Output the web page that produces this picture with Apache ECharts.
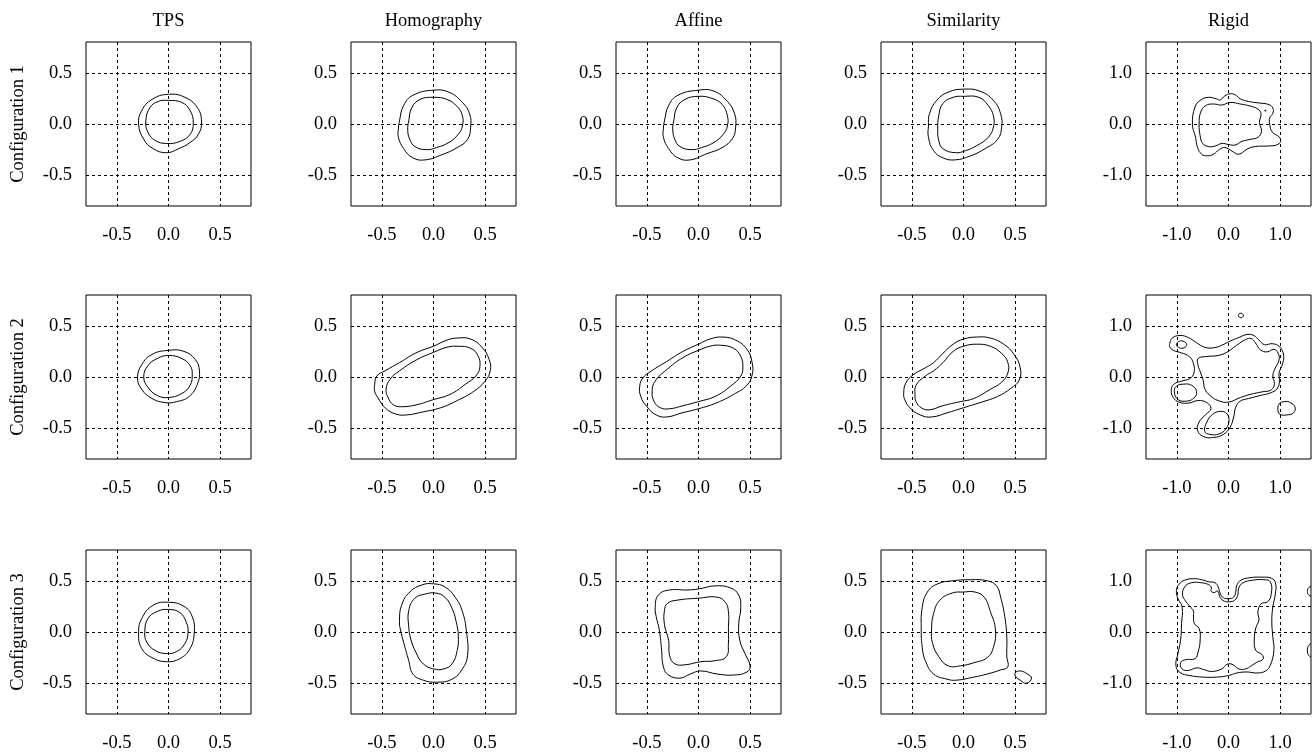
<!DOCTYPE html>
<html>
<head>
<meta charset="utf-8">
<script src="https://cdn.jsdelivr.net/npm/echarts@6/dist/echarts.min.js"></script>
<style>
html,body{margin:0;padding:0;background:#fff;}
#chart{width:1313px;height:754px;}
</style>
</head>
<body>
<div id="chart"></div>
<script>
// ---------- labels & ticks ----------
const colTitles = ['TPS', 'Homography', 'Affine', 'Similarity', 'Rigid'];
const rowLabels = ['Configuration 1', 'Configuration 2', 'Configuration 3'];
const ticksSmall = [-0.5, 0, 0.5];
const ticksRigid = [-1, 0, 1];
const gridYRigidRow3 = [-1, 0, 0.5];   // horizontal grid lines of last panel
const rangeSmall = [-0.8, 0.8];
const rangeRigid = [-1.6, 1.6];

// ---------- contour lines (x, y) ----------
// Row 1
const tps1Outer = [[0,0.29],[0.16,0.26],[0.28,0.16],[0.32,0.02],[0.29,-0.10],[0.21,-0.18],[0.10,-0.24],[-0.02,-0.28],[-0.15,-0.24],[-0.24,-0.15],[-0.29,0.0],[-0.26,0.13],[-0.16,0.24]];
const tps1Inner = [[0,0.23],[0.13,0.21],[0.21,0.13],[0.24,0.01],[0.21,-0.10],[0.11,-0.17],[-0.02,-0.19],[-0.13,-0.16],[-0.20,-0.08],[-0.22,0.03],[-0.18,0.16],[-0.10,0.22]];
const hom1Outer = [[-0.33,0.03],[-0.29,0.18],[-0.20,0.28],[0,0.33],[0.15,0.31],[0.28,0.21],[0.35,0.10],[0.36,-0.03],[0.33,-0.15],[0.23,-0.23],[0.08,-0.30],[-0.08,-0.35],[-0.20,-0.33],[-0.29,-0.24],[-0.34,-0.13],[-0.34,-0.04]];
const hom1Inner = [[-0.24,0.03],[-0.21,0.16],[-0.13,0.24],[0,0.26],[0.13,0.24],[0.23,0.17],[0.28,0.08],[0.28,-0.02],[0.24,-0.10],[0.15,-0.18],[0.03,-0.23],[-0.07,-0.25],[-0.18,-0.22],[-0.23,-0.15],[-0.25,-0.06]];
const aff1Outer = [[-0.33,0.03],[-0.29,0.18],[-0.20,0.28],[0,0.33],[0.15,0.32],[0.28,0.22],[0.35,0.10],[0.36,-0.03],[0.33,-0.14],[0.23,-0.23],[0.08,-0.29],[-0.08,-0.35],[-0.20,-0.33],[-0.29,-0.24],[-0.34,-0.13],[-0.34,-0.04]];
const aff1Inner = [[-0.24,0.03],[-0.21,0.16],[-0.13,0.24],[0,0.27],[0.13,0.25],[0.23,0.19],[0.28,0.08],[0.28,-0.02],[0.24,-0.10],[0.15,-0.18],[0.03,-0.23],[-0.07,-0.25],[-0.18,-0.22],[-0.23,-0.15],[-0.25,-0.05]];
const sim1Outer = [[-0.33,0.10],[-0.26,0.23],[-0.15,0.31],[0,0.34],[0.16,0.32],[0.29,0.23],[0.36,0.10],[0.37,-0.03],[0.33,-0.15],[0.21,-0.24],[0.07,-0.31],[-0.08,-0.35],[-0.20,-0.33],[-0.29,-0.26],[-0.34,-0.13],[-0.34,-0.02]];
const sim1Inner = [[-0.24,0.08],[-0.20,0.20],[-0.10,0.26],[0,0.27],[0.15,0.26],[0.24,0.18],[0.29,0.08],[0.29,-0.03],[0.24,-0.13],[0.13,-0.21],[0.02,-0.26],[-0.08,-0.28],[-0.20,-0.24],[-0.24,-0.16],[-0.25,-0.05]];
const rig1Outer = [[-0.70,0],[-0.65,0.33],[-0.55,0.46],[-0.39,0.52],[-0.23,0.49],[-0.16,0.47],[-0.07,0.55],[0.03,0.59],[0.13,0.57],[0.23,0.49],[0.39,0.44],[0.59,0.41],[0.78,0.38],[0.86,0.31],[0.86,0.21],[0.80,0.12],[0.80,-0.01],[0.85,-0.16],[0.98,-0.25],[1.01,-0.34],[0.93,-0.41],[0.75,-0.43],[0.52,-0.44],[0.36,-0.49],[0.20,-0.59],[0.07,-0.53],[-0.07,-0.46],[-0.18,-0.50],[-0.29,-0.59],[-0.41,-0.62],[-0.52,-0.59],[-0.60,-0.46],[-0.64,-0.26]];
const rig1Inner = [[-0.57,0],[-0.54,0.23],[-0.44,0.36],[-0.29,0.39],[-0.13,0.37],[0.03,0.42],[0.23,0.39],[0.42,0.35],[0.57,0.29],[0.63,0.20],[0.60,0.03],[0.64,-0.14],[0.57,-0.26],[0.42,-0.30],[0.26,-0.34],[0.13,-0.41],[0,-0.40],[-0.13,-0.38],[-0.26,-0.43],[-0.39,-0.44],[-0.50,-0.38],[-0.55,-0.23]];
const rig1Dot = [[0.70,0.26],[0.715,0.27],[0.73,0.26],[0.715,0.25]];
// Row 2
const tps2Outer = [[-0.30,-0.01],[-0.26,0.12],[-0.16,0.22],[0,0.26],[0.15,0.25],[0.26,0.17],[0.30,0.06],[0.28,-0.07],[0.20,-0.19],[0.08,-0.24],[-0.03,-0.25],[-0.16,-0.21],[-0.26,-0.12]];
const tps2Inner = [[-0.24,0],[-0.20,0.11],[-0.11,0.18],[0,0.21],[0.13,0.18],[0.21,0.11],[0.23,0.03],[0.21,-0.08],[0.13,-0.16],[0,-0.20],[-0.11,-0.18],[-0.20,-0.10]];
const hom2Outer = [[-0.57,-0.07],[-0.55,0.01],[-0.47,0.06],[-0.33,0.14],[-0.16,0.24],[0,0.30],[0.13,0.36],[0.23,0.38],[0.36,0.37],[0.47,0.29],[0.54,0.17],[0.55,0.06],[0.50,-0.04],[0.39,-0.14],[0.23,-0.23],[0.07,-0.30],[-0.10,-0.34],[-0.26,-0.37],[-0.37,-0.36],[-0.47,-0.30],[-0.54,-0.20],[-0.57,-0.14]];
const hom2Inner = [[-0.46,-0.12],[-0.42,-0.02],[-0.33,0.06],[-0.16,0.17],[0,0.24],[0.13,0.29],[0.24,0.30],[0.36,0.28],[0.43,0.21],[0.45,0.10],[0.41,0.01],[0.31,-0.07],[0.16,-0.17],[0,-0.22],[-0.16,-0.27],[-0.31,-0.29],[-0.39,-0.27],[-0.44,-0.20]];
const aff2Outer = [[-0.57,-0.09],[-0.54,-0.01],[-0.47,0.05],[-0.31,0.15],[-0.15,0.25],[0,0.32],[0.11,0.37],[0.23,0.39],[0.36,0.36],[0.47,0.27],[0.52,0.14],[0.52,0.02],[0.47,-0.08],[0.34,-0.17],[0.18,-0.25],[0,-0.31],[-0.16,-0.35],[-0.31,-0.39],[-0.41,-0.37],[-0.50,-0.29],[-0.56,-0.19]];
const aff2Inner = [[-0.45,-0.14],[-0.42,-0.04],[-0.31,0.07],[-0.15,0.19],[0,0.26],[0.11,0.30],[0.21,0.31],[0.34,0.28],[0.41,0.20],[0.43,0.10],[0.41,0.01],[0.31,-0.09],[0.16,-0.19],[0,-0.24],[-0.15,-0.28],[-0.28,-0.31],[-0.37,-0.30],[-0.43,-0.24]];
const sim2Outer = [[-0.58,-0.16],[-0.56,-0.06],[-0.49,0.02],[-0.37,0.09],[-0.29,0.14],[-0.20,0.23],[-0.10,0.32],[0,0.37],[0.13,0.39],[0.26,0.38],[0.39,0.32],[0.49,0.22],[0.55,0.09],[0.54,-0.03],[0.46,-0.11],[0.33,-0.19],[0.16,-0.25],[0,-0.30],[-0.16,-0.35],[-0.31,-0.39],[-0.42,-0.37],[-0.52,-0.30],[-0.57,-0.22]];
const sim2Inner = [[-0.47,-0.17],[-0.46,-0.08],[-0.37,0.01],[-0.29,0.06],[-0.20,0.14],[-0.10,0.25],[0,0.30],[0.13,0.32],[0.26,0.30],[0.37,0.23],[0.43,0.14],[0.43,0.04],[0.37,-0.05],[0.26,-0.12],[0.10,-0.21],[-0.03,-0.24],[-0.20,-0.28],[-0.33,-0.32],[-0.41,-0.30],[-0.46,-0.24]];
const rig2Outer = [[-1.14,0.65],[-1.09,0.76],[-0.94,0.81],[-0.78,0.77],[-0.62,0.67],[-0.46,0.58],[-0.29,0.57],[-0.13,0.62],[0.03,0.70],[0.20,0.77],[0.36,0.83],[0.49,0.81],[0.59,0.72],[0.70,0.63],[0.85,0.65],[0.99,0.59],[1.07,0.42],[1.04,0.23],[0.98,0.08],[0.99,-0.07],[0.94,-0.23],[0.81,-0.31],[0.62,-0.36],[0.39,-0.42],[0.23,-0.47],[0.14,-0.59],[0.10,-0.78],[0.03,-0.98],[-0.10,-1.12],[-0.29,-1.18],[-0.49,-1.16],[-0.60,-1.04],[-0.57,-0.88],[-0.44,-0.73],[-0.34,-0.62],[-0.42,-0.50],[-0.59,-0.46],[-0.78,-0.51],[-0.96,-0.49],[-1.07,-0.40],[-1.11,-0.26],[-1.06,-0.14],[-0.91,-0.08],[-0.75,-0.03],[-0.67,0.08],[-0.68,0.26],[-0.76,0.40],[-0.91,0.47],[-1.07,0.52],[-1.14,0.59]];
const rig2Core = [[-0.59,0.36],[-0.42,0.40],[-0.20,0.42],[-0.02,0.49],[0.16,0.62],[0.33,0.73],[0.44,0.75],[0.52,0.67],[0.62,0.53],[0.75,0.49],[0.88,0.54],[0.96,0.47],[0.98,0.33],[0.90,0.16],[0.86,0.02],[0.89,-0.13],[0.83,-0.25],[0.65,-0.29],[0.42,-0.34],[0.23,-0.40],[0,-0.49],[-0.20,-0.46],[-0.36,-0.36],[-0.46,-0.23],[-0.49,-0.07],[-0.54,0.08],[-0.59,0.23]];
const rig2LeftLobe = [[-1.05,-0.29],[-1.01,-0.18],[-0.88,-0.14],[-0.72,-0.16],[-0.62,-0.28],[-0.67,-0.41],[-0.81,-0.47],[-0.98,-0.44]];
const rig2BottomLobe = [[-0.46,-1.06],[-0.42,-0.88],[-0.31,-0.73],[-0.15,-0.67],[-0.03,-0.72],[0.01,-0.85],[-0.05,-1.01],[-0.18,-1.11],[-0.36,-1.12]];
const rig2SpotTL = [[-1.01,0.63],[-0.95,0.70],[-0.86,0.69],[-0.81,0.63],[-0.86,0.57],[-0.95,0.57]];
const rig2SpotTop = [[0.19,1.20],[0.24,1.245],[0.29,1.20],[0.24,1.155]];
const rig2Right = [[0.96,-0.66],[0.98,-0.53],[1.08,-0.48],[1.20,-0.50],[1.29,-0.59],[1.26,-0.70],[1.13,-0.74],[1.00,-0.73]];
// Row 3
const tps3Outer = [[-0.29,-0.02],[-0.26,0.13],[-0.15,0.26],[0,0.29],[0.15,0.25],[0.23,0.15],[0.25,0],[0.21,-0.16],[0.11,-0.26],[-0.02,-0.29],[-0.16,-0.25],[-0.26,-0.16]];
const tps3Inner = [[-0.23,0],[-0.20,0.13],[-0.11,0.20],[0,0.22],[0.11,0.19],[0.17,0.10],[0.19,0],[0.16,-0.11],[0.08,-0.19],[-0.02,-0.21],[-0.13,-0.18],[-0.21,-0.10]];
const hom3Outer = [[-0.33,0.10],[-0.31,0.26],[-0.23,0.39],[-0.11,0.46],[0,0.47],[0.11,0.44],[0.21,0.34],[0.28,0.20],[0.32,0],[0.33,-0.23],[0.28,-0.36],[0.18,-0.46],[0.03,-0.49],[-0.10,-0.47],[-0.20,-0.41],[-0.24,-0.28],[-0.29,-0.10],[-0.32,0.02]];
const hom3Inner = [[-0.24,0.05],[-0.24,0.21],[-0.18,0.33],[-0.08,0.37],[0.02,0.38],[0.11,0.34],[0.18,0.23],[0.22,0.10],[0.24,-0.03],[0.23,-0.18],[0.18,-0.31],[0.10,-0.36],[0,-0.36],[-0.10,-0.31],[-0.17,-0.20],[-0.22,-0.07]];
const aff3Outer = [[-0.42,0.24],[-0.39,0.36],[-0.28,0.41],[-0.11,0.41],[0,0.42],[0.16,0.45],[0.31,0.43],[0.39,0.36],[0.41,0.24],[0.39,0.08],[0.40,-0.08],[0.45,-0.21],[0.50,-0.33],[0.47,-0.39],[0.34,-0.42],[0.18,-0.41],[0.02,-0.38],[-0.08,-0.41],[-0.18,-0.45],[-0.29,-0.42],[-0.34,-0.34],[-0.36,-0.15],[-0.38,0.02],[-0.41,0.15]];
const aff3Inner = [[-0.33,0.21],[-0.30,0.28],[-0.21,0.31],[0,0.33],[0.18,0.34],[0.26,0.29],[0.29,0.20],[0.29,0.03],[0.29,-0.11],[0.27,-0.24],[0.16,-0.28],[0.02,-0.29],[-0.13,-0.32],[-0.23,-0.31],[-0.28,-0.23],[-0.29,-0.08],[-0.33,0.07]];
const sim3Outer = [[-0.41,0.02],[-0.40,0.24],[-0.35,0.39],[-0.25,0.47],[-0.10,0.50],[0.07,0.51],[0.23,0.50],[0.32,0.45],[0.36,0.34],[0.40,0.15],[0.42,-0.05],[0.42,-0.24],[0.43,-0.34],[0.36,-0.37],[0.23,-0.41],[0.10,-0.44],[-0.07,-0.47],[-0.16,-0.46],[-0.29,-0.41],[-0.37,-0.28],[-0.40,-0.15]];
const sim3Inner = [[-0.31,0.02],[-0.29,0.18],[-0.23,0.31],[-0.11,0.38],[0,0.39],[0.11,0.39],[0.20,0.34],[0.26,0.20],[0.31,0.02],[0.29,-0.15],[0.23,-0.25],[0.10,-0.30],[-0.03,-0.33],[-0.15,-0.33],[-0.24,-0.24],[-0.30,-0.11]];
const sim3Spot = [[0.50,-0.40],[0.55,-0.38],[0.62,-0.41],[0.66,-0.45],[0.61,-0.50],[0.55,-0.47],[0.51,-0.44]];
const rig3Outer = [[-1.01,0.81],[-0.96,0.93],[-0.85,1.01],[-0.68,1.04],[-0.52,1.02],[-0.39,0.98],[-0.26,0.96],[-0.20,0.88],[-0.16,0.75],[-0.10,0.67],[0,0.65],[0.10,0.68],[0.14,0.78],[0.16,0.91],[0.24,1.01],[0.42,1.06],[0.65,1.07],[0.83,1.05],[0.91,0.96],[0.91,0.75],[0.86,0.49],[0.84,0.20],[0.86,-0.10],[0.88,-0.36],[0.81,-0.65],[0.72,-0.76],[0.55,-0.80],[0.36,-0.78],[0.16,-0.80],[0,-0.85],[-0.23,-0.88],[-0.49,-0.88],[-0.75,-0.85],[-0.94,-0.79],[-1.02,-0.65],[-0.98,-0.42],[-0.93,-0.16],[-0.91,0.16],[-0.90,0.49],[-0.98,0.65]];
const rig3Inner = [[-0.89,0.72],[-0.85,0.88],[-0.72,0.96],[-0.52,0.96],[-0.38,0.92],[-0.33,0.86],[-0.34,0.80],[-0.28,0.77],[-0.21,0.80],[-0.16,0.67],[-0.08,0.60],[0.02,0.59],[0.12,0.62],[0.18,0.72],[0.20,0.86],[0.28,0.96],[0.46,1.01],[0.68,1.02],[0.81,0.98],[0.83,0.75],[0.76,0.59],[0.63,0.55],[0.57,0.39],[0.59,0.23],[0.53,0.08],[0.50,-0.16],[0.53,-0.36],[0.65,-0.44],[0.67,-0.53],[0.55,-0.59],[0.44,-0.66],[0.33,-0.72],[0.20,-0.72],[0.07,-0.63],[-0.03,-0.63],[-0.13,-0.72],[-0.33,-0.77],[-0.49,-0.73],[-0.62,-0.70],[-0.78,-0.75],[-0.90,-0.72],[-0.93,-0.60],[-0.83,-0.54],[-0.65,-0.52],[-0.59,-0.39],[-0.55,-0.16],[-0.57,0.07],[-0.66,0.16],[-0.68,0.31],[-0.68,0.41],[-0.75,0.50],[-0.83,0.60]];
const rig3EdgeTop = [[1.53,0.79],[1.56,0.87],[1.65,0.90],[1.74,0.86],[1.77,0.79],[1.74,0.72],[1.65,0.68],[1.56,0.72]];
const rig3EdgeBottom = [[1.53,-0.36],[1.56,-0.26],[1.65,-0.21],[1.75,-0.25],[1.80,-0.36],[1.75,-0.47],[1.65,-0.51],[1.56,-0.46]];

const panelContours = [
  [[tps1Outer, tps1Inner], [hom1Outer, hom1Inner], [aff1Outer, aff1Inner], [sim1Outer, sim1Inner], [rig1Outer, rig1Inner, rig1Dot]],
  [[tps2Outer, tps2Inner], [hom2Outer, hom2Inner], [aff2Outer, aff2Inner], [sim2Outer, sim2Inner],
   [rig2Outer, rig2Core, rig2LeftLobe, rig2BottomLobe, rig2SpotTL, rig2SpotTop, rig2Right]],
  [[tps3Outer, tps3Inner], [hom3Outer, hom3Inner], [aff3Outer, aff3Inner], [sim3Outer, sim3Inner, sim3Spot],
   [rig3Outer, rig3Inner, rig3EdgeTop, rig3EdgeBottom]]
];

// ---------- layout ----------
const FONT = '"Liberation Serif", "Times New Roman", serif';
const FS = 18.5;
const colLeft = [86, 351, 616, 881, 1146];
const rowTop = [42, 295, 550];
const boxW = 165, boxH = 164;

const grids = [], xAxes = [], yAxes = [], series = [];
const fmt = v => v.toFixed(1);
const splitStyle = { show: true, lineStyle: { color: '#000', width: 1, type: [3, 3] } };

let k = 0;
for (let r = 0; r < 3; r++) {
  for (let c = 0; c < 5; c++) {
    const rigid = c === 4;
    const range = rigid ? rangeRigid : rangeSmall;
    const ticks = rigid ? ticksRigid : ticksSmall;
    const yGrid = (rigid && r === 2) ? gridYRigidRow3 : ticks;
    grids.push({ left: colLeft[c], top: rowTop[r], width: boxW, height: boxH,
      show: true, borderColor: '#000', borderWidth: 1, backgroundColor: 'transparent' });
    xAxes.push({ gridIndex: k, type: 'value', min: range[0], max: range[1],
      axisLine: { show: false }, axisTick: { show: false, customValues: ticks },
      axisLabel: { customValues: ticks, formatter: fmt, fontFamily: FONT, fontSize: FS, color: '#000', margin: 20 },
      splitLine: splitStyle });
    yAxes.push({ gridIndex: k, type: 'value', min: range[0], max: range[1],
      axisLine: { show: false }, axisTick: { show: false, customValues: yGrid },
      axisLabel: { customValues: ticks, formatter: fmt, fontFamily: FONT, fontSize: FS, color: '#000', margin: 14,
                   padding: [4, 0, 0, 0] },
      splitLine: splitStyle });
    panelContours[r][c].forEach(pts => {
      series.push({
        type: 'custom', xAxisIndex: k, yAxisIndex: k, clip: true, silent: true,
        data: pts,
        encode: { x: 0, y: 1 },
        renderItem: (params, api) => {
          if (params.dataIndexInside !== 0) return null;
          const n = params.dataInsideLength;
          const points = [];
          for (let i = 0; i < n; i++) points.push(api.coord([api.value(0, i), api.value(1, i)]));
          return { type: 'polygon', shape: { points: points, smooth: 0.45 },
                   style: { fill: 'none', stroke: '#000', lineWidth: 1 } };
        }
      });
    });
    k++;
  }
}

const graphics = [];
colTitles.forEach((t, c) => graphics.push({ type: 'text', x: colLeft[c] + boxW / 2, y: 21,
  style: { text: t, font: FS + 'px ' + FONT, fill: '#000', textAlign: 'center', textVerticalAlign: 'middle' } }));
rowLabels.forEach((t, r) => graphics.push({ type: 'text', x: 18.5, y: rowTop[r] + boxH / 2, rotation: Math.PI / 2,
  style: { text: t, font: FS + 'px ' + FONT, fill: '#000', textAlign: 'center', textVerticalAlign: 'middle' } }));

const chart = echarts.init(document.getElementById('chart'), null, { renderer: 'canvas' });
chart.setOption({
  animation: false,
  backgroundColor: '#fff',
  grid: grids, xAxis: xAxes, yAxis: yAxes, series: series, graphic: graphics
});
</script>
</body>
</html>
